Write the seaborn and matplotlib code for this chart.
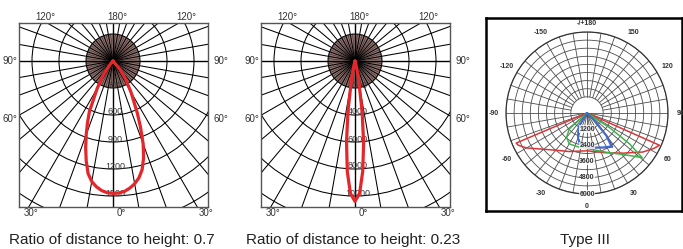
import numpy as np
import pandas as pd
import matplotlib
matplotlib.use("Agg")
import matplotlib.pyplot as plt
import seaborn as sns
from matplotlib.patches import Circle

# ---- data ----
# left chart: ratio 0.7, angle from nadir (deg, negative = left) and intensity (cd)
angles_a = [-45, -40, -35, -30, -25, -22.5, -20, -17.5, -15, -12.5, -10, -7.5, -5, -2.5, 0,
            2.5, 5, 7.5, 10, 12.5, 15, 17.5, 20, 22.5, 25, 30, 35, 40, 45]
cd_a = [0, 60, 190, 350, 620, 740, 870, 1010, 1150, 1280, 1360, 1410, 1445, 1465, 1470,
        1468, 1455, 1425, 1385, 1330, 1250, 1130, 980, 800, 640, 400, 240, 120, 0]
rings_a = [300, 600, 900, 1200, 1500, 1800]
ring_labels_a = ["300", "600", "900", "1200", "1500"]

# middle chart: ratio 0.23
angles_b = [-16, -14, -12, -10, -8, -6, -4, -2, 0, 2, 4, 6, 8, 10, 12, 14, 16]
cd_b = [0, 300, 950, 1700, 3700, 6000, 8200, 9800, 10400, 9800, 8200, 6100, 3800, 1750, 950, 300, 0]
rings_b = [2000, 4000, 6000, 8000, 10000, 12000]
ring_labels_b = ["2000", "4000", "6000", "8000", "10000"]

# right chart: Type III distribution (C-planes)
red_ang = [-69, -67, -65, -60, -53, -40, -25, 0, 25, 42, 55, 62, 66, 68]
red_cd = [0, 5700, 5630, 5180, 4420, 3600, 3150, 2800, 3250, 4000, 5040, 5600, 5880, 0]
green_ang = [-52, -48, -40, -30, -13, 4, 26, 45, 51, 54, 57, 60]
green_cd = [0, 1760, 2350, 2640, 2600, 2670, 3230, 4450, 5270, 3900, 2000, 0]
blue_ang = [-36, -33, -22, -14, 4, 25, 36, 40, 44, 47]
blue_cd = [0, 1120, 1810, 2360, 2550, 2790, 3040, 2190, 960, 0]
navy_ang = [-34, -30, -20, -10, 5, 25, 37, 41, 45, 48]
navy_cd = [0, 1250, 1950, 2450, 2600, 2850, 3150, 2300, 1000, 0]
t3_rings = [1200, 1800, 2400, 3000, 3600, 4200, 4800, 5400, 6000]
t3_ring_labels = ["1200", "2400", "3600", "4800", "6000"]
t3_ticks = [0, 30, 60, 90, 120, 150, 180, -150, -120, -90, -60, -30]
t3_tick_labels = ["0", "30", "60", "90", "120", "150", "-/+180", "-150", "-120", "-90", "-60", "-30"]

W, H = 683, 249
RED = "#e5262b"
DISK = "#937571"

sns.set_theme(style="white")
plt.rcParams["font.family"] = ["Liberation Sans", "DejaVu Sans"]

fig = plt.figure(figsize=(W / 100, H / 100), dpi=100)
fig.patch.set_facecolor("white")


def px_axes(left, top, w, h, **kw):
    return fig.add_axes([left / W, 1 - (top + h) / H, w / W, h / H], **kw)


# angle labels of the beam charts: text, dx, dy in pixels from the centre
beam_labels = [("180°", 4, 44), ("120°", -68, 44), ("120°", 73, 44),
               ("90°", -103, 0), ("90°", 108, 0), ("60°", -103, -58), ("60°", 108, -58),
               ("30°", -82, -152), ("0°", 8, -152), ("30°", 93, -152)]


def draw_beam(ax, angles, cd, rings, ring_labels):
    s = rings[0] / 27.0  # cd per pixel
    ax.set_xlim(-94 * s, 95 * s)
    ax.set_ylim(-146 * s, 38 * s)
    ax.set_facecolor("white")
    ax.add_patch(Circle((0, 0), rings[0], fc=DISK, ec="none", zorder=1))
    big = 400 * s
    for a in range(0, 360, 5):
        t = np.deg2rad(a)
        if a % 10 == 0:
            L, lw = big, 0.75
        else:
            L, lw = rings[0], 0.25
        if a % 90 == 0:
            lw = 1.0
        ax.plot([0, L * np.sin(t)], [0, L * np.cos(t)], color="black", lw=lw, zorder=2)
    for r in rings:
        ax.add_patch(Circle((0, 0), r, fill=False, ec="black", lw=0.75, zorder=2))
    for r, lab in zip(rings, ring_labels):
        ax.text(2.5 * s, -r + 3 * s, lab, ha="center", va="center", fontsize=6.5,
                color="#333333", zorder=3)

    th = np.deg2rad(angles)
    df = pd.DataFrame({"x": np.array(cd) * np.sin(th), "y": -np.array(cd) * np.cos(th)})
    sns.lineplot(data=df, x="x", y="y", sort=False, estimator=None, color=RED,
                 lw=2.3, ax=ax, zorder=5)
    ax.set_xlabel("")
    ax.set_ylabel("")
    ax.set_xticks([])
    ax.set_yticks([])
    for sp in ax.spines.values():
        sp.set_color("#555555")
        sp.set_linewidth(1.0)
    for txt, dx, dy in beam_labels:
        ax.text(dx * s, dy * s, txt, ha="center", va="center", fontsize=7,
                color="#333333", clip_on=False)


ax1 = px_axes(19, 23, 189, 184)
draw_beam(ax1, angles_a, cd_a, rings_a, ring_labels_a)
ax2 = px_axes(261, 23, 189, 184)
draw_beam(ax2, angles_b, cd_b, rings_b, ring_labels_b)

# ---- Type III chart ----
frame = px_axes(486, 18, 196, 193)
frame.set_xticks([])
frame.set_yticks([])
frame.set_facecolor("white")
for sp in frame.spines.values():
    sp.set_color("black")
    sp.set_linewidth(1.8)

pax = px_axes(506, 32, 162, 162, projection="polar")
pax.set_facecolor("none")
pax.set_theta_zero_location("S")
pax.set_theta_direction(1)
pax.set_ylim(0, 6000)
pax.grid(False)
pax.set_xticks([])
pax.set_yticks([])
pax.spines["polar"].set_color("#333333")
pax.spines["polar"].set_linewidth(0.9)

circ = np.linspace(0, 2 * np.pi, 300)
for r in t3_rings:
    pax.plot(circ, np.full_like(circ, r), color="#4d4d4d", lw=0.6, zorder=1)
for a in range(0, 360, 10):
    t = np.deg2rad(a)
    r0 = 0 if (a <= 90 or a >= 270) else 1200
    pax.plot([t, t], [r0, 6000], color="#4d4d4d", lw=0.6, zorder=1)

for ang, vals, col in [(red_ang, red_cd, "#d8373a"), (green_ang, green_cd, "#3fb34a"),
                       (navy_ang, navy_cd, "#5b4fa8"), (blue_ang, blue_cd, "#3b6fd6")]:
    sns.lineplot(x=np.deg2rad(ang), y=vals, sort=False, estimator=None, color=col,
                 lw=1.1, ax=pax, zorder=4)
pax.set_xlabel("")
pax.set_ylabel("")

for r, lab in zip(t3_rings[::2], t3_ring_labels):
    pax.text(0, r, lab, ha="center", va="center", fontsize=5, fontweight="bold",
             color="#333333", zorder=5,
             bbox=dict(boxstyle="square,pad=0.05", fc="white", ec="none", alpha=0.8))
for a, lab in zip(t3_ticks, t3_tick_labels):
    rr = 6650 if a == 180 else 6900
    pax.text(np.deg2rad(a), rr, lab, ha="center", va="center", fontsize=5,
             fontweight="bold", color="#333333", clip_on=False)

# captions
fig.text(112 / W, 1 - 240 / H, "Ratio of distance to height: 0.7", ha="center", va="center",
         fontsize=11, color="#222222")
fig.text(353 / W, 1 - 240 / H, "Ratio of distance to height: 0.23", ha="center", va="center",
         fontsize=11, color="#222222")
fig.text(585 / W, 1 - 240 / H, "Type III", ha="center", va="center",
         fontsize=11, color="#222222")

fig.savefig("out.png", dpi=100)
